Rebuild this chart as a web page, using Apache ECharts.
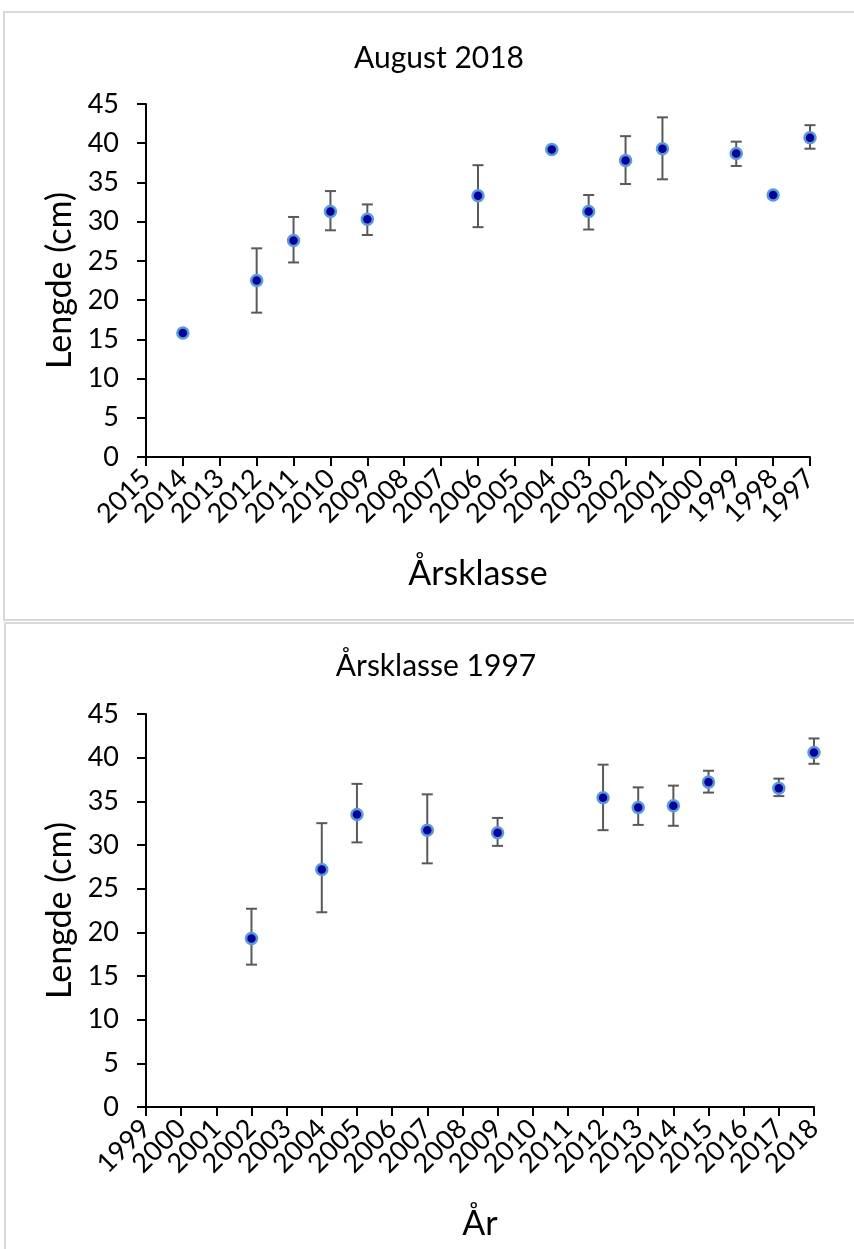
<!DOCTYPE html>
<html>
<head>
<meta charset="utf-8">
<script src="https://cdn.jsdelivr.net/npm/echarts@6/dist/echarts.min.js"></script>
<style>
html,body{margin:0;padding:0;background:#fff;}
#chart{width:854px;height:1249px;}
</style>
</head>
<body>
<div id="chart"></div>
<script>
// ---- Data ----
const topTitle = 'August 2018';
const topXName = 'Årsklasse';
const topCategories = ['2015','2014','2013','2012','2011','2010','2009','2008','2007','2006','2005','2004','2003','2002','2001','2000','1999','1998','1997'];
const topYears = ['2014','2012','2011','2010','2009','2006','2004','2003','2002','2001','1999','1998','1997'];
const topMean  = [15.8, 22.5, 27.6, 31.3, 30.3, 33.3, 39.2, 31.3, 37.8, 39.3, 38.7, 33.4, 40.7];
const topLow   = [null, 18.4, 24.8, 28.9, 28.3, 29.3, null, 29.0, 34.8, 35.4, 37.1, null, 39.3];
const topHigh  = [null, 26.6, 30.6, 33.9, 32.2, 37.2, null, 33.4, 40.9, 43.3, 40.2, null, 42.3];

const botTitle = 'Årsklasse 1997';
const botXName = 'År';
const botCategories = ['1999','2000','2001','2002','2003','2004','2005','2006','2007','2008','2009','2010','2011','2012','2013','2014','2015','2016','2017','2018'];
const botYears = ['2002','2004','2005','2007','2009','2012','2013','2014','2015','2017','2018'];
const botMean  = [19.3, 27.2, 33.5, 31.7, 31.4, 35.4, 34.3, 34.5, 37.2, 36.5, 40.6];
const botLow   = [16.3, 22.3, 30.3, 27.9, 29.9, 31.7, 32.3, 32.2, 36.0, 35.6, 39.3];
const botHigh  = [22.7, 32.5, 37.0, 35.8, 33.1, 39.2, 36.6, 36.8, 38.5, 37.6, 42.2];

const yName = 'Lengde (cm)';
const yMin = 0, yMax = 45, yStep = 5;

// ---- Build ----
const FONT = 'Lato';
const chart = echarts.init(document.getElementById('chart'), null, {renderer:'canvas'});

function errData(years, lo, hi){
  const out = [];
  years.forEach((y,i)=>{ if(lo[i]!=null && hi[i]!=null) out.push([y, lo[i], hi[i]]); });
  return out;
}
function renderErr(params, api){
  const x = api.value(0), lo = api.value(1), hi = api.value(2);
  const p1 = api.coord([x, hi]), p2 = api.coord([x, lo]);
  const w = 5.5;
  const st = {stroke:'#595959', lineWidth:2, fill:null};
  return {type:'group', children:[
    {type:'line', shape:{x1:p1[0],y1:p1[1],x2:p2[0],y2:p2[1]}, style:st},
    {type:'line', shape:{x1:p1[0]-w,y1:p1[1],x2:p1[0]+w,y2:p1[1]}, style:st},
    {type:'line', shape:{x1:p2[0]-w,y1:p2[1],x2:p2[0]+w,y2:p2[1]}, style:st}
  ]};
}
function xAxisCfg(idx, cats, name, gap){
  return {
    type:'category', gridIndex:idx, data:cats, boundaryGap:false,
    name:name, nameLocation:'middle', nameGap:gap,
    nameTextStyle:{fontFamily:FONT, fontSize:34, color:'#000'},
    axisLine:{show:true, lineStyle:{color:'#000', width:2}},
    axisTick:{show:true, inside:false, length:9, interval:0, lineStyle:{color:'#000', width:2}},
    axisLabel:{interval:0, rotate:45, margin:17, fontFamily:FONT, fontSize:27, color:'#000'},
    splitLine:{show:false}
  };
}
function yAxisCfg(idx){
  return {
    type:'value', gridIndex:idx, min:yMin, max:yMax, interval:yStep,
    name:yName, nameLocation:'middle', nameGap:64,
    nameTextStyle:{fontFamily:FONT, fontSize:34, color:'#000'},
    axisLine:{show:true, lineStyle:{color:'#000', width:2}},
    axisTick:{show:true, inside:false, length:9, lineStyle:{color:'#000', width:2}},
    axisLabel:{margin:27, fontFamily:FONT, fontSize:27, color:'#000'},
    splitLine:{show:false}
  };
}
function scatterCfg(idx, years, mean){
  return {
    type:'scatter', xAxisIndex:idx, yAxisIndex:idx, z:5,
    data: years.map((y,i)=>[y, mean[i]]),
    symbol:'circle', symbolSize:11,
    itemStyle:{color:'#00009C', borderColor:'#5B9BD5', borderWidth:2.5, opacity:1}
  };
}
function errCfg(idx, years, lo, hi){
  return {
    type:'custom', xAxisIndex:idx, yAxisIndex:idx, z:3,
    data: errData(years, lo, hi), renderItem: renderErr
  };
}

const option = {
  backgroundColor:'#fff',
  animation:false,
  title:[
    {text:topTitle, left:434, top:38, textAlign:'center', textStyle:{fontFamily:FONT, fontSize:30, fontWeight:'normal', color:'#000'}},
    {text:botTitle, left:431, top:646, textAlign:'center', textStyle:{fontFamily:FONT, fontSize:30, fontWeight:'normal', color:'#000'}}
  ],
  grid:[
    {left:146, top:104, width:664, height:353, containLabel:false},
    {left:146, top:714, width:668, height:393, containLabel:false}
  ],
  xAxis:[ xAxisCfg(0, topCategories, topXName, 100), xAxisCfg(1, botCategories, botXName, 100) ],
  yAxis:[ yAxisCfg(0), yAxisCfg(1) ],
  series:[
    errCfg(0, topYears, topLow, topHigh),
    scatterCfg(0, topYears, topMean),
    errCfg(1, botYears, botLow, botHigh),
    scatterCfg(1, botYears, botMean)
  ],
  graphic:[
    {type:'rect', shape:{x:4, y:12, width:870, height:608}, style:{fill:null, stroke:'#d9d9d9', lineWidth:2}, silent:true, z:-1},
    {type:'rect', shape:{x:5, y:623, width:870, height:640}, style:{fill:null, stroke:'#d9d9d9', lineWidth:2}, silent:true, z:-1}
  ]
};
chart.setOption(option);
</script>
</body>
</html>
